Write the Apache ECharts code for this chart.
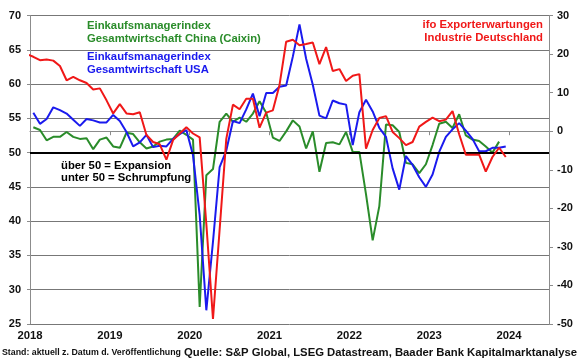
<!DOCTYPE html>
<html><head><meta charset="utf-8">
<script src="https://cdn.jsdelivr.net/npm/echarts@6/dist/echarts.min.js"></script>
<style>html,body{margin:0;padding:0;background:#fff}#c{width:580px;height:359px}</style>
</head><body><div id="c"></div>
<script>
// ---- categories (months) ----
const months = [];
for (let y = 2018; y <= 2023; y++) for (let m = 1; m <= 12; m++) months.push(y + '-' + String(m).padStart(2, '0'));
const ifoMonths = ['2017-12'].concat(months);
const xTickLabels = ['2018', '2019', '2020', '2021', '2022', '2023', '2024'];

// ---- series values ----
// Einkaufsmanagerindex Gesamtwirtschaft China (Caixin), left axis
const chinaPMI = [
  53.7, 53.3, 51.8, 52.3, 52.3, 53.0, 52.3, 52.0, 52.1, 50.5, 51.9, 52.2,
  50.9, 50.7, 52.9, 52.7, 51.5, 50.6, 50.9, 51.6, 51.9, 52.0, 53.2, 52.6,
  51.9, 27.5, 46.7, 47.6, 54.5, 55.7, 54.5, 55.1, 54.5, 55.7, 57.5, 55.8,
  52.2, 51.7, 53.1, 54.7, 53.8, 50.6, 53.1, 47.2, 51.4, 51.5, 51.2, 53.0,
  50.1, 50.1, 43.9, 37.2, 42.2, 54.1, 54.0, 53.0, 48.5, 48.3, 47.0, 48.3,
  51.1, 54.2, 54.5, 53.6, 55.6, 52.5, 51.9, 51.7, 50.9, 50.0, 51.6
];
// Einkaufsmanagerindex Gesamtwirtschaft USA, left axis
const usPMI = [
  55.8, 54.2, 54.9, 56.6, 56.2, 55.7, 54.8, 53.9, 54.9, 54.7, 54.4, 54.4,
  55.5, 54.6, 53.0, 50.9, 51.5, 52.6, 50.8, 51.0, 50.9, 52.0, 52.7, 53.3,
  49.6, 40.9, 27.0, 37.0, 47.9, 50.3, 54.6, 54.3, 56.3, 58.6, 55.3, 58.7,
  58.7, 59.6, 59.8, 64.0, 68.7, 63.7, 59.9, 55.4, 55.0, 57.6, 57.2, 57.0,
  51.1, 55.9, 57.7, 56.0, 53.6, 52.3, 47.7, 44.6, 49.5, 48.2, 46.4, 45.0,
  46.8, 50.1, 52.3, 53.4, 54.3, 53.2, 52.0, 50.2, 50.2, 50.7, 50.7, 50.9
];
// ifo Exporterwartungen Industrie Deutschland, right axis (starts 2017-12)
const ifoExport = [
  20.0,
  19.3, 18.4, 18.6, 18.3, 16.9, 13.2, 14.1, 13.2, 12.5, 10.8, 11.1, 8.0,
  4.6, 7.0, 4.6, 4.4, 4.9, -1.0, -2.8, -3.4, -7.4, -2.3, -0.6, 1.0,
  -0.6, -1.6, -24.0, -48.7, -25.5, -2.0, 6.9, 5.7, 8.4, 8.4, 0.9, 4.8,
  5.4, 12.0, 23.2, 23.7, 22.3, 22.6, 23.0, 17.4, 21.8, 15.6, 16.1, 13.0,
  14.4, 14.8, -4.5, 0.3, 3.4, 3.9, -0.2, -1.8, -3.6, -2.8, 1.2, 2.4,
  3.5, 2.6, 3.0, 5.2, -0.8, -6.1, -6.1, -6.1, -10.5, -6.7, -4.3, -6.7
];
const threshold = 50;

// ---- helpers ----
function monthPos(s) { const p = s.split('-').map(Number); return (p[0] - 2018) * 12 + (p[1] - 1) + 0.5; }
function pairs(cats, vals) { return vals.map((v, i) => [monthPos(cats[i]), v]); }

const FONT = "'Liberation Sans', Arial, sans-serif";
const gridColor = '#777777';
const axisColor = '#8c8c8c';
const cGreen = '#2a8c2a', cBlue = '#1a1aee', cRed = '#f01818';

const chart = echarts.init(document.getElementById('c'), null, { renderer: 'canvas' });

function txt(text, x, y, color, size, align) {
  return {
    type: 'text', x: x, y: y, silent: true, z: 100,
    style: {
      text: text, fill: color, font: 'bold ' + size + 'px ' + FONT,
      textAlign: align || 'left', textVerticalAlign: 'middle',
      align: align || 'left', verticalAlign: 'middle'
    }
  };
}

chart.setOption({
  animation: false,
  backgroundColor: '#fff',
  grid: { left: 30, right: 31, top: 15.5, bottom: 35 },
  xAxis: {
    type: 'value', min: 0, max: 78, interval: 12,
    axisLine: { show: true, lineStyle: { color: axisColor, width: 1 } },
    axisTick: { show: true, length: 4, lineStyle: { color: axisColor } },
    axisLabel: {
      margin: 6, color: '#111', fontWeight: 'bold', fontSize: 11.3, fontFamily: FONT,
      formatter: v => xTickLabels[Math.round(v / 12)] || ''
    },
    splitLine: { show: false }
  },
  yAxis: [
    {
      type: 'value', min: 25, max: 70, interval: 5, position: 'left',
      axisLine: { show: true, lineStyle: { color: axisColor } },
      axisTick: { show: true, length: 3, lineStyle: { color: axisColor } },
      axisLabel: { margin: 9, color: '#111', fontWeight: 'bold', fontSize: 11, fontFamily: FONT },
      splitLine: { show: true, lineStyle: { color: gridColor, width: 1 } }
    },
    {
      type: 'value', min: -50, max: 30, interval: 10, position: 'right',
      axisLine: { show: true, lineStyle: { color: axisColor } },
      axisTick: { show: true, length: 4, lineStyle: { color: axisColor } },
      axisLabel: { margin: 8, color: '#111', fontWeight: 'bold', fontSize: 11, fontFamily: FONT },
      splitLine: { show: false }
    }
  ],
  series: [
    {
      name: 'China', type: 'line', yAxisIndex: 0, data: pairs(months, chinaPMI),
      showSymbol: false, symbol: 'none', clip: true,
      lineStyle: { color: cGreen, width: 2 }, itemStyle: { color: cGreen }, z: 3,
      markLine: {
        silent: true, symbol: 'none', label: { show: false },
        lineStyle: { color: '#000', width: 2, type: 'solid' },
        data: [{ yAxis: threshold }]
      }
    },
    {
      name: 'USA', type: 'line', yAxisIndex: 0, data: pairs(months, usPMI),
      showSymbol: false, symbol: 'none', clip: true,
      lineStyle: { color: cBlue, width: 2 }, itemStyle: { color: cBlue }, z: 4
    },
    {
      name: 'ifo', type: 'line', yAxisIndex: 1, data: pairs(ifoMonths, ifoExport),
      showSymbol: false, symbol: 'none', clip: true,
      lineStyle: { color: cRed, width: 2 }, itemStyle: { color: cRed }, z: 5
    }
  ],
  graphic: [
    txt('Einkaufsmanagerindex', 87, 25.7, cGreen, 11.3),
    txt('Gesamtwirtschaft China (Caixin)', 87, 39.3, cGreen, 11.3),
    txt('Einkaufsmanagerindex', 87, 57.3, cBlue, 11.3),
    txt('Gesamtwirtschaft USA', 87, 70.3, cBlue, 11.3),
    txt('ifo Exporterwartungen', 543, 25, cRed, 11.3, 'right'),
    txt('Industrie Deutschland', 543, 38, cRed, 11.3, 'right'),
    txt('über 50 = Expansion', 61, 165.5, '#000', 11.3),
    txt('unter 50 = Schrumpfung', 61, 177.5, '#000', 11.3),
    txt('Stand: aktuell z. Datum d. Veröffentlichung', 2, 353, '#111', 8.8),
    txt('Quelle: S&P Global, LSEG Datastream, Baader Bank Kapitalmarktanalyse', 577, 352.5, '#111', 11.3, 'right')
  ]
});
</script></body></html>
